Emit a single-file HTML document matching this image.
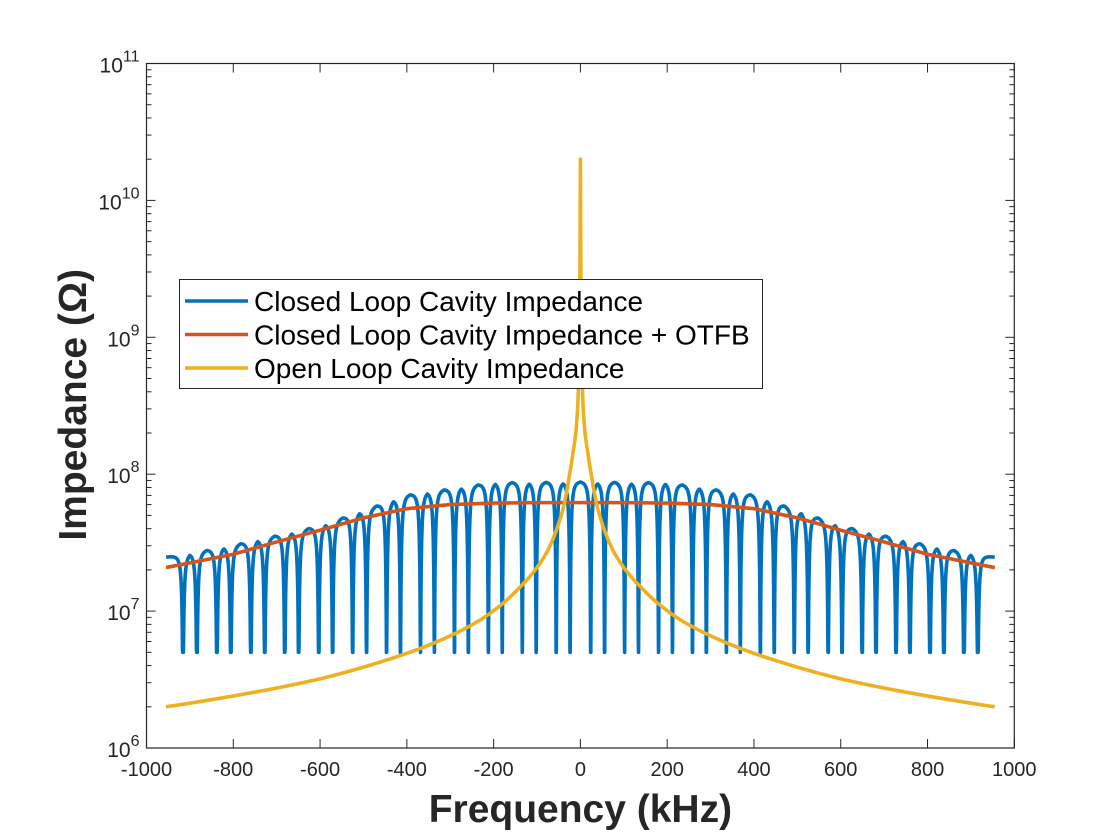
<!DOCTYPE html>
<html><head><meta charset="utf-8"><style>
html,body{margin:0;padding:0;background:#fff;}
svg{display:block;font-family:"Liberation Sans",Arial,sans-serif;}
</style></head><body>
<svg id="chart" width="1120" height="840" viewBox="0 0 1120 840" xmlns="http://www.w3.org/2000/svg">
<rect x="0" y="0" width="1120" height="840" fill="#fff"/>
<g id="plot"></g>
</svg>
<script>
// ---- data ----
const xTicks = [-1000,-800,-600,-400,-200,0,200,400,600,800,1000];
const yDecades = [6,7,8,9,10,11];
// closed-loop notch centres (kHz, positive side; mirrored)
const notchPairCentres = [39.7,117.9,196.1,274.3,352.5,430.7,508.9,587.1,665.3,743.5,821.7,899.9];
const notchHalfGap = 16;
const notchDepth = 5e6;
// closed-loop peak envelope
const blueEnvF = [0,200,400,600,800,955];
const blueEnvV = [9.0e7,8.9e7,7.2e7,4.3e7,3.1e7,2.5e7];
// closed-loop + OTFB
const redF = [0,100,200,300,400,500,600,700,800,900,955];
const redV = [6.2e7,6.2e7,6.15e7,6.0e7,5.6e7,4.8e7,3.9e7,3.2e7,2.6e7,2.25e7,2.08e7];
// open loop
const yelF = [0,0.7,1.5,3,6,10,17,25,40,77,139,231,300,461,600,800,955];
const yelV = [2e10,5e9,2e9,7e8,3.2e8,2.1e8,1.45e8,1.0e8,5.6e7,2.7e7,1.5e7,8.6e6,6.6e6,4.25e6,3.2e6,2.4e6,2.0e6];

// ---- axes ----
const L=146.5,R=1014.3,T=63.5,B=748;
const X=f=>L+(f+1000)/2000*(R-L);
const Y=v=>B-(Math.log10(v)-6)/5*(B-T);
const NS="http://www.w3.org/2000/svg";
const svg=document.getElementById('chart');
const g=document.getElementById('plot');
function mk(tag,attrs,parent){const e=document.createElementNS(NS,tag);for(const k in attrs)e.setAttribute(k,attrs[k]);(parent||g).appendChild(e);return e;}
function interpLog(fs,vs,f){f=Math.abs(f);for(let i=0;i<fs.length-1;i++){if(f<=fs[i+1]){const t=(f-fs[i])/(fs[i+1]-fs[i]);return Math.pow(10,Math.log10(vs[i])+t*(Math.log10(vs[i+1])-Math.log10(vs[i])));}}return vs[vs.length-1];}
function interpLogLog(fs,vs,f){f=Math.abs(f);if(f<=fs[1]){const t=f/fs[1];return Math.pow(10,Math.log10(vs[0])+t*(Math.log10(vs[1])-Math.log10(vs[0])));}
  for(let i=1;i<fs.length-1;i++){if(f<=fs[i+1]){const t=(Math.log(f)-Math.log(fs[i]))/(Math.log(fs[i+1])-Math.log(fs[i]));return Math.pow(10,Math.log10(vs[i])+t*(Math.log10(vs[i+1])-Math.log10(vs[i])));}}return vs[vs.length-1];}

// box
const box=mk('rect',{x:L,y:T,width:R-L,height:B-T,fill:'none',stroke:'#262626','stroke-width':1.2});



// x ticks
xTicks.forEach(t=>{
  const x=X(t);
  const a=mk('line',{x1:x,x2:x,y1:B,y2:B-9,stroke:'#262626','stroke-width':1});
  
  
  const b=mk('line',{x1:x,x2:x,y1:T,y2:T+9,stroke:'#262626','stroke-width':1});
  
  
  const tx=mk('text',{x:x,y:B+28,'text-anchor':'middle','font-size':20,fill:'#262626'});
  tx.textContent=String(t);
  
  
});
// y ticks
yDecades.forEach(d=>{
  const y=Y(Math.pow(10,d));
  [[L,L+9],[R,R-9]].forEach(p=>{
    const a=mk('line',{x1:p[0],x2:p[1],y1:y,y2:y,stroke:'#262626','stroke-width':1});
    
    
  });
  if(d<11){for(let m=2;m<=9;m++){const ym=Y(m*Math.pow(10,d));[[L,L+5],[R,R-5]].forEach(p=>{
    const a=mk('line',{x1:p[0],x2:p[1],y1:ym,y2:ym,stroke:'#262626','stroke-width':1});
    
    });}}
  const tx=mk('text',{x:L-7,y:y+9,'text-anchor':'end','font-size':21,fill:'#262626'});
  
  
  const s1=mk('tspan',{},tx);s1.textContent='10';
  const s2=mk('tspan',{dy:-11,'font-size':16},tx);s2.textContent=String(d);
});

// titles
const xt=mk('text',{x:X(0),y:822,'text-anchor':'middle','font-size':39,'font-weight':'bold',fill:'#262626'});
xt.textContent='Frequency (kHz)';


const yt=mk('text',{x:0,y:0,'text-anchor':'middle','font-size':39,'font-weight':'bold',fill:'#262626',transform:`translate(86,${(T+B)/2-1}) rotate(-90)`});
yt.textContent='Impedance (Ω)';



// clip
const defs=mk('defs',{});
const cp=mk('clipPath',{id:'clip'},defs);
mk('rect',{x:L,y:T,width:R-L,height:B-T},cp);

// series
const notches=[];notchPairCentres.forEach(c=>{[c-notchHalfGap,c+notchHalfGap].forEach(n=>{notches.push(n);notches.push(-n);});});
function bluePts(){
  const pts=[];const fs=[];
  for(let f=-955;f<=955;f+=0.5)fs.push(f);
  notches.forEach(n=>fs.push(n));
  fs.sort((a,b)=>a-b);
  fs.forEach(f=>{
    const env=interpLog(blueEnvF,blueEnvV,f);
    let fac=1;const w=5.5;
    notches.forEach(n=>{const d=f-n;fac=Math.min(fac,Math.abs(d)/Math.sqrt(d*d+w*w));});
    const v=Math.max(notchDepth,env*fac);
    pts.push([X(f),Y(v)]);
  });
  return pts;
}
function seriesPts(fs,vs){const pts=[];for(let i=fs.length-1;i>0;i--)pts.push([X(-fs[i]),Y(vs[i])]);for(let i=0;i<fs.length;i++)pts.push([X(fs[i]),Y(vs[i])]);return pts;}
function yelPts(){const pts=[];const fmax=yelF[yelF.length-1];
  for(let f=-fmax;f<=fmax+1e-9;f+=(Math.abs(f)<30?0.1:1)){pts.push([X(f),Y(interpLogLog(yelF,yelV,f))]);}
  return pts;}
function path(pts,color,name){
  const p=mk('path',{d:'M'+pts.map(q=>q[0].toFixed(2)+','+q[1].toFixed(2)).join('L'),fill:'none',stroke:color,'stroke-width':3.6,'stroke-linejoin':'round','clip-path':'url(#clip)'});
  
  
}
path(bluePts(),'#0072BD','closed-loop-line');
path(seriesPts(redF,redV),'#D95319','closed-loop-otfb-line');
path(yelPts(),'#EDB120','open-loop-line');

// legend
const lg=mk('g',{});


mk('rect',{x:179.5,y:279.5,width:583,height:109,fill:'#fff',stroke:'#262626','stroke-width':1},lg);
const items=[['Closed Loop Cavity Impedance','#0072BD'],['Closed Loop Cavity Impedance + OTFB','#D95319'],['Open Loop Cavity Impedance','#EDB120']];
items.forEach((it,i)=>{
  const y=301+i*33.5;
  const e=mk('g',{},lg);
  
  
  mk('line',{x1:185,x2:248,y1:y,y2:y,stroke:it[1],'stroke-width':3.6},e);
  const t=mk('text',{x:254,y:y+10,'font-size':28,fill:'#000'},e);
  t.textContent=it[0];
});
</script>
</body></html>
